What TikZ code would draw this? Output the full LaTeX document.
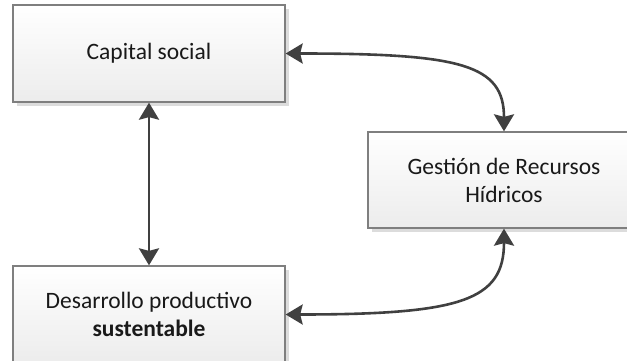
\documentclass[tikz,border=0pt]{standalone}
\usepackage{fontspec}
\setmainfont{Carlito}
\usetikzlibrary{arrows.meta,shadows}
\definecolor{boxborder}{HTML}{7F7F7F}
\definecolor{boxbottom}{HTML}{ECECEC}
\definecolor{linkgray}{HTML}{404040}
\definecolor{shadowgray}{HTML}{DCDCDC}
\tikzset{
  block/.style={rectangle, draw=boxborder, line width=1.3pt,
    top color=white, bottom color=boxbottom,
    minimum width=272pt, minimum height=97pt, inner sep=0pt,
    align=center, text=black!90,
    font=\fontsize{23.5}{28}\selectfont,
    drop shadow={shadow xshift=4pt, shadow yshift=-4pt, fill=shadowgray, opacity=1}},
  link/.style={draw=linkgray, line width=2.6pt,
    {Stealth[length=17pt,width=20pt,inset=2.5pt]}-{Stealth[length=17pt,width=20pt,inset=2.5pt]}}
}
\begin{document}
\begin{tikzpicture}[x=1pt,y=1pt]
  \useasboundingbox (0,0) rectangle (627,360);
  \node[block] (cap) at (149,306.5) {Capital social};
  \node[block, minimum height=96pt] (ges) at (504,180) {Gestión de Recursos\\Hídricos};
  \node[block] (des) at (149,45.5) {Desarrollo productivo\\\textbf{sustentable}};
  % vertical link between the two left blocks
  \draw[link] (cap.south) -- (des.north);
  % curved links to the water management block
  \draw[link] (cap.east) .. controls +(175,0) and +(0,67) .. (ges.north);
  \draw[link] (des.east) .. controls +(175,0) and +(0,-72) .. (ges.south);
\end{tikzpicture}
\end{document}
